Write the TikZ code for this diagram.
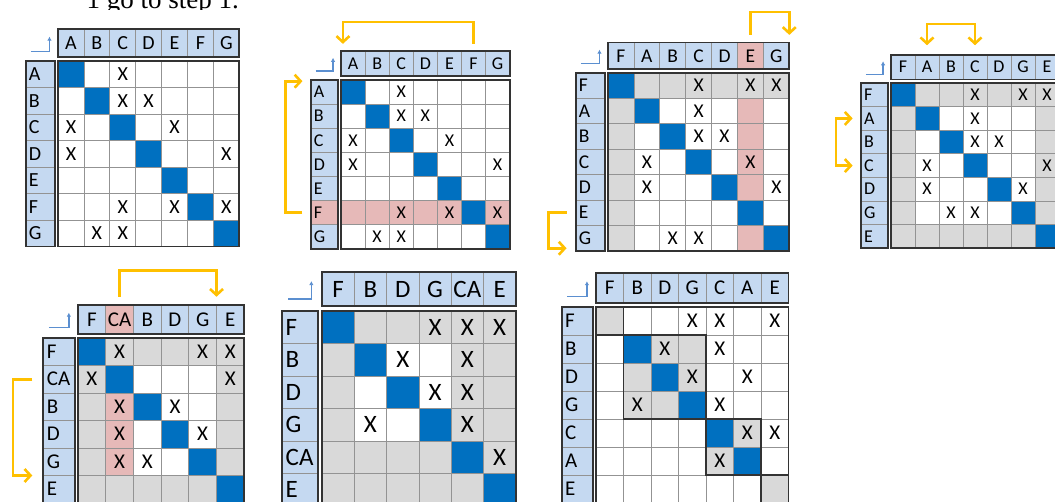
\documentclass[tikz,border=0pt]{standalone}
\usepackage{fontspec}
\setmainfont{Carlito}
\newfontfamily\bodyserif{Liberation Serif}
\usetikzlibrary{arrows.meta}

\definecolor{hdrblue}{HTML}{C5D9F1}
\definecolor{diagblue}{HTML}{0070C0}
\definecolor{pinkcell}{HTML}{E6B9B8}
\definecolor{graycell}{HTML}{D9D9D9}
\definecolor{flowgold}{HTML}{FFC000}
\definecolor{cornerblue}{HTML}{5B8FD0}
\definecolor{framegray}{HTML}{333333}

\tikzset{
  hdr/.style={fill=hdrblue},
  dg/.style={fill=diagblue},
  pk/.style={fill=pinkcell},
  gr/.style={fill=graycell},
  gridline/.style={draw=gray!85, line width=0.8pt},
  frame/.style={draw=framegray, line width=1.8pt},
  lab/.style={inner sep=0pt},
  rowlab/.style={inner sep=0pt, anchor=west},
  xmk/.style={inner sep=0pt},
  flow/.style={draw=flowgold, line width=2.6pt,
    -{Straight Barb[length=6pt,width=13pt]}},
  flowboth/.style={draw=flowgold, line width=2.6pt,
    {Straight Barb[length=6pt,width=13pt]}-{Straight Barb[length=6pt,width=13pt]}},
  corner/.style={draw=cornerblue, line width=1.3pt, -{Latex[length=4pt,width=4.5pt]}},
}

% header backgrounds of a DSM
\newcommand{\dsmback}[1]{%
  \fill[hdr] (0,-1.2) rectangle (#1,-0.15);
  \fill[hdr] (-1.25,0) rectangle (-0.12,#1);
}
% grid, frames, labels and corner sign of a DSM
\newcommand{\dsmlines}[3]{%
  \foreach \i in {2,...,#2} {
    \draw[gridline] (\i-1,0) -- (\i-1,#2);
    \draw[gridline] (0,\i-1) -- (#2,\i-1);
    \draw[gridline] (\i-1,-1.2) -- (\i-1,-0.15);
    \draw[gridline] (-1.25,\i-1) -- (-0.12,\i-1);
  }
  \draw[frame] (0,0) rectangle (#2,#2);
  \draw[frame] (0,-1.2) rectangle (#2,-0.15);
  \draw[frame] (-1.25,0) rectangle (-0.12,#2);
  \foreach \l [count=\i] in {#3} {
    \node[lab] (#1-c\i) at (\i-0.5,-0.675) {\l};
    \node[rowlab] (#1-r\i) at (-1.13,\i-0.5) {\l};
  }
  \draw[corner] (-1.05,-0.37) -| (-0.33,-0.92);
}

\begin{document}
\begin{tikzpicture}[x=1pt,y=1pt]
  \useasboundingbox (0,0) rectangle (1055,-502);
  \fill[white] (0,0) rectangle (1055,-502);
  \clip (0,0) rectangle (1055,-502);

  % cut-off line of text above
  \begin{scope}
    \clip (0,0) rectangle (300,-10);
    \node[font=\bodyserif\fontsize{27}{30}\selectfont, anchor=base east, inner sep=0pt]
      (steptext) at (239,-9) {1 go to step 1.};
  \end{scope}

  % matrix 1: initial order
  \begin{scope}[shift={(58pt,-61pt)}, x=25.9pt, y=-26.5pt, font=\fontsize{20}{24}\selectfont]
    \dsmback{7}
    \foreach \i in {1,...,7} \fill[dg] (\i-1,\i-1) rectangle (\i,\i);
    \dsmlines{ma}{7}{A,B,C,D,E,F,G}
    \foreach \c/\r in {3/1,3/2,4/2,1/3,5/3,1/4,7/4,3/6,5/6,7/6,2/7,3/7}
      \node[xmk] (ma-x\c\r) at (\c-0.5,\r-0.5) {X};
  \end{scope}

  % matrix 2: row F has no inputs, move it to the front
  \begin{scope}[shift={(341pt,-80pt)}, x=24.1pt, y=-24.1pt, font=\fontsize{18}{22}\selectfont]
    \dsmback{7}
    \fill[pk] (0,5) rectangle (7,6);
    \fill[pk] (-1.25,5) rectangle (-0.12,6);
    \foreach \i in {1,...,7} \fill[dg] (\i-1,\i-1) rectangle (\i,\i);
    \dsmlines{mb}{7}{A,B,C,D,E,F,G}
    \foreach \c/\r in {3/1,3/2,4/2,1/3,5/3,1/4,7/4,3/6,5/6,7/6,2/7,3/7}
      \node[xmk] (mb-x\c\r) at (\c-0.5,\r-0.5) {X};
    \coordinate (mb-ftop) at (5.5,-1.5);
    \coordinate (mb-atop) at (0.08,-1.5);
    \coordinate (mb-frow) at (-1.6,5.5);
    \coordinate (mb-arow) at (-1.6,0.05);
    \draw[flow] (mb-ftop) -- ++(0,-0.9) -| (mb-atop);
    \draw[flow] (mb-frow) -- ++(-0.7,0) |- (mb-arow);
  \end{scope}

  % matrix 3: column E has no outputs, move it to the end
  \begin{scope}[shift={(608pt,-73pt)}, x=25.9pt, y=-25.4pt, font=\fontsize{19.5}{23}\selectfont]
    \dsmback{7}
    \fill[gr] (0,0) rectangle (7,1);
    \fill[gr] (0,0) rectangle (1,7);
    \fill[pk] (5,1) rectangle (6,7);
    \fill[pk] (5,-1.2) rectangle (6,-0.15);
    \foreach \i in {1,...,7} \fill[dg] (\i-1,\i-1) rectangle (\i,\i);
    \dsmlines{mc}{7}{F,A,B,C,D,E,G}
    \foreach \c/\r in {4/1,6/1,7/1,4/2,4/3,5/3,2/4,6/4,2/5,7/5,3/7,4/7}
      \node[xmk] (mc-x\c\r) at (\c-0.5,\r-0.5) {X};
    \coordinate (mc-etop) at (5.5,-1.5);
    \coordinate (mc-endtop) at (7,-1.5);
    \coordinate (mc-erow) at (-1.6,5.5);
    \coordinate (mc-endrow) at (-1.6,6.9);
    \draw[flow] (mc-etop) -- ++(0,-0.9) -| (mc-endtop);
    \draw[flow] (mc-erow) -- ++(-0.7,0) |- (mc-endrow);
  \end{scope}

  % matrix 4: loop A-C, merge them
  \begin{scope}[shift={(891pt,-83pt)}, x=24pt, y=-23.6pt, font=\fontsize{18}{22}\selectfont]
    \dsmback{7}
    \fill[gr] (0,0) rectangle (7,1);
    \fill[gr] (0,6) rectangle (7,7);
    \fill[gr] (0,0) rectangle (1,7);
    \fill[gr] (6,0) rectangle (7,7);
    \foreach \i in {1,...,7} \fill[dg] (\i-1,\i-1) rectangle (\i,\i);
    \dsmlines{md}{7}{F,A,B,C,D,G,E}
    \foreach \c/\r in {4/1,6/1,7/1,4/2,4/3,5/3,2/4,7/4,2/5,6/5,3/6,4/6}
      \node[xmk] (md-x\c\r) at (\c-0.5,\r-0.5) {X};
    \coordinate (md-atop) at (1.5,-1.6);
    \coordinate (md-ctop) at (3.5,-1.6);
    \coordinate (md-arow) at (-1.6,1.5);
    \coordinate (md-crow) at (-1.6,3.5);
    \draw[flowboth] (md-atop) -- ++(0,-0.9) -| (md-ctop);
    \draw[flowboth] (md-arow) -- ++(-0.7,0) |- (md-crow);
  \end{scope}

  % matrix 5: CA has no outputs left, move it back
  \begin{scope}[shift={(78pt,-338pt)}, x=27.7pt, y=-27.5pt, font=\fontsize{21}{25}\selectfont]
    \dsmback{6}
    \fill[gr] (0,0) rectangle (6,1);
    \fill[gr] (0,5) rectangle (6,6);
    \fill[gr] (0,0) rectangle (1,6);
    \fill[gr] (5,0) rectangle (6,6);
    \fill[pk] (1,2) rectangle (2,5);
    \fill[pk] (1,-1.2) rectangle (2,-0.15);
    \foreach \i in {1,...,6} \fill[dg] (\i-1,\i-1) rectangle (\i,\i);
    \dsmlines{me}{6}{F,CA,B,D,G,E}
    \foreach \c/\r in {2/1,5/1,6/1,1/2,6/2,2/3,4/3,2/4,5/4,2/5,3/5}
      \node[xmk] (me-x\c\r) at (\c-0.5,\r-0.5) {X};
    \coordinate (me-catop) at (1.5,-1.5);
    \coordinate (me-gtop) at (5,-1.5);
    \coordinate (me-carow) at (-1.65,1.5);
    \coordinate (me-grow) at (-1.65,5);
    \draw[flow] (me-catop) -- ++(0,-0.95) -| (me-gtop);
    \draw[flow] (me-carow) -- ++(-0.7,0) |- (me-grow);
  \end{scope}

  % matrix 6: remaining loop B-D-G
  \begin{scope}[shift={(322pt,-311pt)}, x=32.3pt, y=-32.5pt, font=\fontsize{25}{30}\selectfont]
    \dsmback{6}
    \fill[gr] (0,0) rectangle (6,6);
    \fill[white] (1,1) rectangle (4,4);
    \foreach \i in {1,...,6} \fill[dg] (\i-1,\i-1) rectangle (\i,\i);
    \dsmlines{mf}{6}{F,B,D,G,CA,E}
    \foreach \c/\r in {4/1,5/1,6/1,3/2,5/2,4/3,5/3,2/4,5/4,6/5}
      \node[xmk] (mf-x\c\r) at (\c-0.5,\r-0.5) {X};
  \end{scope}

  % matrix 7: final order with blocks
  \begin{scope}[shift={(596pt,-307pt)}, x=27.5pt, y=-28pt, font=\fontsize{21}{25}\selectfont]
    \dsmback{7}
    \fill[gr] (0,0) rectangle (1,1);
    \fill[gr] (6,6) rectangle (7,7);
    \foreach \c/\r in {3/2,4/2,2/3,4/3,2/4,3/4,6/5,5/6}
      \fill[gr] (\c-1,\r-1) rectangle (\c,\r);
    \foreach \i in {2,...,6} \fill[dg] (\i-1,\i-1) rectangle (\i,\i);
    \dsmlines{mg}{7}{F,B,D,G,C,A,E}
    \draw[frame] (0,0) rectangle (1,1) (1,1) rectangle (4,4)
      (4,4) rectangle (6,6) (6,6) rectangle (7,7);
    \foreach \c/\r in {4/1,5/1,7/1,3/2,5/2,4/3,6/3,2/4,5/4,6/5,7/5,5/6}
      \node[xmk] (mg-x\c\r) at (\c-0.5,\r-0.5) {X};
  \end{scope}
\end{tikzpicture}
\end{document}
